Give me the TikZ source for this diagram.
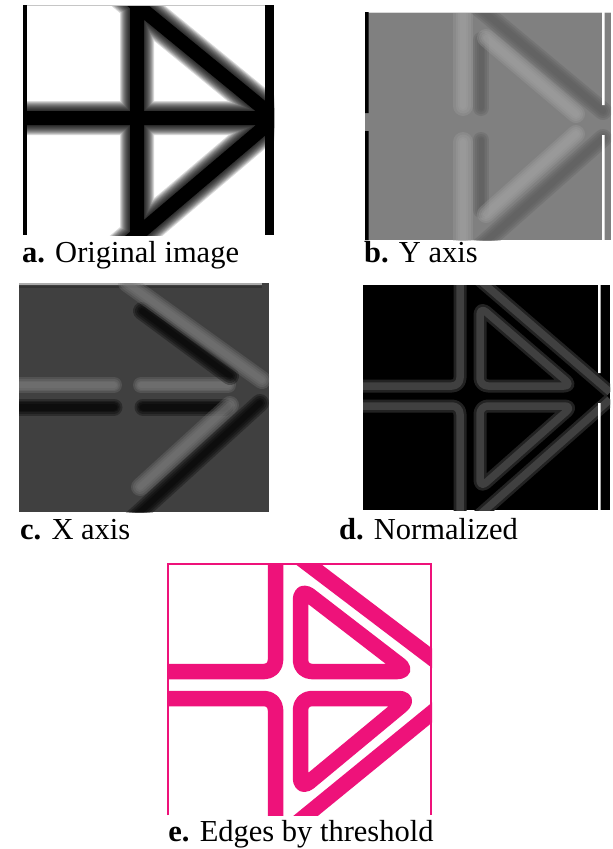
\documentclass[tikz,border=0pt]{standalone}
\usepackage{fontspec}
\setmainfont{Liberation Serif}
\definecolor{pinkE}{RGB}{238,18,122}
\definecolor{bgB}{RGB}{128,128,128}
\definecolor{liteB}{RGB}{162,162,162}
\definecolor{darkB}{RGB}{92,92,92}
\definecolor{bgC}{RGB}{64,64,64}
\definecolor{liteC}{RGB}{124,124,124}
\definecolor{darkC}{RGB}{0,0,0}
\definecolor{bandD}{RGB}{64,64,64}
\definecolor{bandDs}{RGB}{34,34,34}
\newcommand{\blurstroke}[3]{%
  \foreach \ww in {#2}{\draw[line width=\ww pt, draw=#1, draw opacity=0.3, line cap=round, line join=round] #3;}}
\begin{document}
\begin{tikzpicture}[x=1pt,y=-1pt,
  captxt/.style={font=\fontsize{30.5}{36}\selectfont, inner sep=0pt},
  bandd/.style={rounded corners=8pt, line join=round},
  bande/.style={line width=15.5pt, draw=pinkE, rounded corners=11pt, line join=round}]
\useasboundingbox (0,0) rectangle (613,849);
\fill[white] (0,0) rectangle (613,849);

% ---------------- panel a: original image
\begin{scope}
  \clip (23,5) rectangle (274,235);
  \fill[white] (23,5) rectangle (274,235);
  \foreach \w in {34,32,30,28,26,24,22,20,18,16}{
    \draw[line width=\w pt, draw opacity=0.15, line join=round]
      (137,-10) -- (137,250)
      (10,118) -- (276,118)
      (118.8,-10) -- (275,118) -- (119.4,250);
  }
  \draw[line width=14pt, line join=round]
      (137,-10) -- (137,250)
      (10,118) -- (276,118)
      (118.8,-10) -- (275,118) -- (119.4,250);
  \draw[gray!45, line width=1pt] (23,5.5) -- (265,5.5);
  \fill[black] (23,5) rectangle (26.5,235);
  \fill[black] (265,5) rectangle (274,235);
\end{scope}

% ---------------- panel b: Y axis
\begin{scope}
  \clip (365,12) rectangle (611,240);
  \fill[bgB] (365,12) rectangle (611,240);
  % vertical bar edges
  \blurstroke{liteB}{20,15,10,6}{(463,0) -- (463,106) (463,142) -- (463,252)}
  \blurstroke{darkB}{16,12,8,5}{(481,40) -- (481,108) (481,140) -- (481,210)}
  % upper diagonal
  \blurstroke{liteB}{18,14,10,6}{(486,38) -- (576,114)}
  \blurstroke{darkB}{18,14,10,6}{(466,-3) -- (603,111)}
  % lower diagonal
  \blurstroke{liteB}{18,14,10,6}{(486,214) -- (576,134)}
  \blurstroke{darkB}{18,14,10,6}{(465,260) -- (603,138)}
  % borders
  \draw[gray!30, line width=1.5pt] (365,12.7) -- (611,12.7);
  \fill[black] (365,12) rectangle (368.5,113) (365,131) rectangle (368.5,240);
  \fill[white] (602,12) rectangle (604.7,105) (602,135) rectangle (604.7,240);
\end{scope}

% ---------------- panel c: X axis
\begin{scope}
  \clip (19,283) rectangle (269,512);
  \fill[bgC] (19,283) rectangle (269,512);
  \draw[gray!65, line width=2pt] (19,284) -- (262,284);
  \draw[black!80, line width=1.2pt] (19,287) -- (262,287);
  % horizontal bar edges
  \blurstroke{liteC}{16,12,9,6}{(10,385) -- (114,385) (141,385) -- (228,385)}
  \blurstroke{darkC}{17,13,10,7}{(10,407) -- (114,407) (143,407) -- (225,407)}
  % upper diagonal
  \blurstroke{darkC}{18,14,10,6}{(142,311) -- (230,376)}
  \blurstroke{liteC}{18,14,10,6}{(127,283) -- (262,380)}
  % lower diagonal
  \blurstroke{liteC}{18,14,10,6}{(230,405) -- (140,487)}
  \blurstroke{darkC}{18,14,10,6}{(260,403) -- (128,523)}
\end{scope}

% ---------------- panel d: normalized
\begin{scope}
  \clip (363,285) rectangle (610,510);
  \fill[black] (363,285) rectangle (610,510);
  \foreach \c/\w in {bandDs/13, bandD/7.5}{
    \draw[bandd, line width=\w pt, draw=\c] (460,270) -- (460,386) -- (350,386);
    \draw[bandd, line width=\w pt, draw=\c] (460,525) -- (460,406) -- (350,406);
    \draw[bandd, line width=\w pt, draw=\c] (480,306.8) -- (480,386) -- (572,386) -- cycle;
    \draw[bandd, line width=\w pt, draw=\c] (480,487.9) -- (480,406) -- (572.6,406) -- cycle;
    \draw[bandd, line width=\w pt, draw=\c] (475,276.1) -- (610,392.2);
    \draw[bandd, line width=\w pt, draw=\c] (475,518.9) -- (610,399.5);
  }
  \fill[white] (598,285) rectangle (600.6,373) (598,403) rectangle (600.6,510);
\end{scope}

% ---------------- panel e: edges by threshold
\begin{scope}
  \clip (167,563) rectangle (432,815);
  \fill[white] (167,563) rectangle (432,815);
  \draw[bande] (275.5,545) -- (275.5,671.5) -- (150,671.5);
  \draw[bande] (275.5,830) -- (275.5,698.5) -- (150,698.5);
  \draw[bande] (300.5,588.4) -- (300.5,671.5) -- (408.4,671.5) -- cycle;
  \draw[bande] (300.5,789.3) -- (300.5,698.5) -- (410,698.5) -- cycle;
  \draw[bande] (292,551.8) -- (445,668);
  \draw[bande] (292,827) -- (445,702);
\end{scope}
\draw[pinkE, line width=2pt] (168,815) -- (168,564) -- (431,564) -- (431,815);

% ---------------- captions
\node[captxt, anchor=base west] (capa) at (22,262) {\textbf{a.} Original image};
\node[captxt, anchor=base west] (capb) at (364,262) {\textbf{b.} Y axis};
\node[captxt, anchor=base west] (capc) at (20,539) {\textbf{c.} X axis};
\node[captxt, anchor=base west] (capd) at (339,539) {\textbf{d.} Normalized};
\node[captxt, anchor=base] (cape) at (301,841) {\textbf{e.} Edges by threshold};
\end{tikzpicture}
\end{document}
